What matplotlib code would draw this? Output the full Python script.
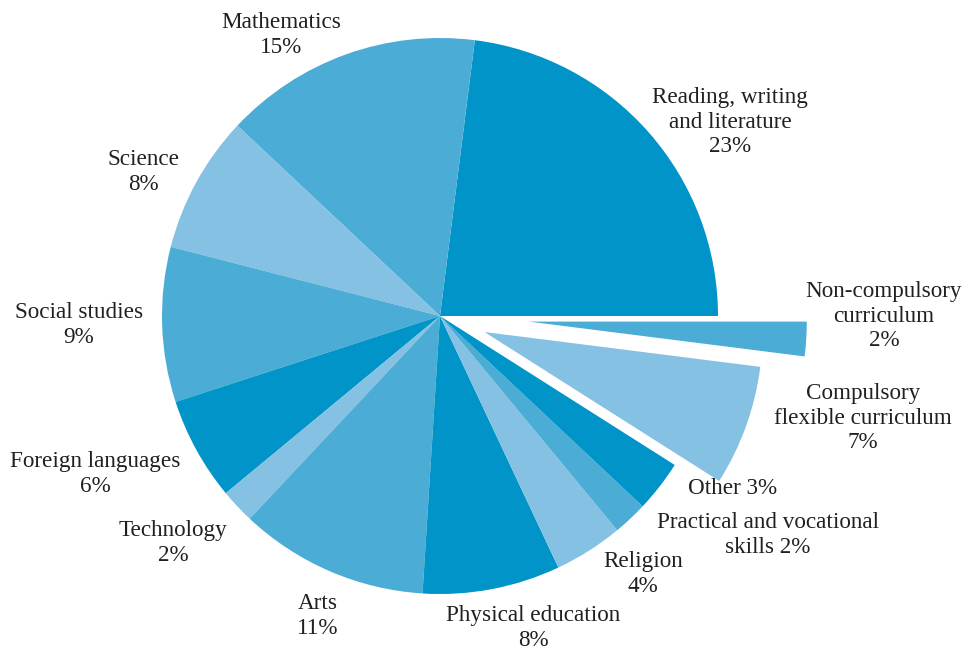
import matplotlib
matplotlib.use("Agg")
import matplotlib.pyplot as plt

# Share of instruction time by subject area (%)
subjects = [
    "Reading, writing\nand literature",
    "Mathematics",
    "Science",
    "Social studies",
    "Foreign languages",
    "Technology",
    "Arts",
    "Physical education",
    "Religion",
    "Practical and vocational\nskills",
    "Other",
    "Compulsory\nflexible curriculum",
    "Non-compulsory\ncurriculum",
]
shares = [23, 15, 8, 9, 6, 2, 11, 8, 4, 2, 3, 7, 2]
inline_pct = [False, False, False, False, False, False, False, False, False, True, True, False, False]

DARK = "#0094C8"
MID = "#4BACD6"
LIGHT = "#84C1E3"
colors = [DARK, MID, LIGHT, MID, DARK, LIGHT, MID, DARK, LIGHT, MID, DARK, LIGHT, MID]
explode = [0, 0, 0, 0, 0, 0, 0, 0, 0, 0, 0, 0.17, 0.32]

# label anchor points in pixels (x from left, y from top)
label_px = [
    (730, 122), (281, 35), (143, 172), (79, 325), (95, 474), (173, 543),
    (318, 616), (533, 628), (643, 574), (768, 535), (733, 489), (863, 418),
    (884, 316),
]

W, H = 968, 653
CX, CY, R = 440, 316, 278

fig = plt.figure(figsize=(W / 100, H / 100), dpi=100)
ax = fig.add_axes([0, 0, 1, 1])
ax.pie(shares, colors=colors, explode=explode, startangle=0, counterclock=True,
       radius=1.0, center=(0, 0), wedgeprops=dict(linewidth=0))
ax.set_xlim(-CX / R, (W - CX) / R)
ax.set_ylim(-(H - CY) / R, CY / R)
ax.set_aspect("equal")
ax.axis("off")

for name, val, inline, (px, py) in zip(subjects, shares, inline_pct, label_px):
    text = f"{name} {val}%" if inline else f"{name}\n{val}%"
    ax.text((px - CX) / R, (CY - py) / R, text, ha="center", va="center",
            fontsize=16.7, family="Liberation Serif", color="#231F20",
            linespacing=1.25, multialignment="center")

fig.savefig("out.png", dpi=100)
